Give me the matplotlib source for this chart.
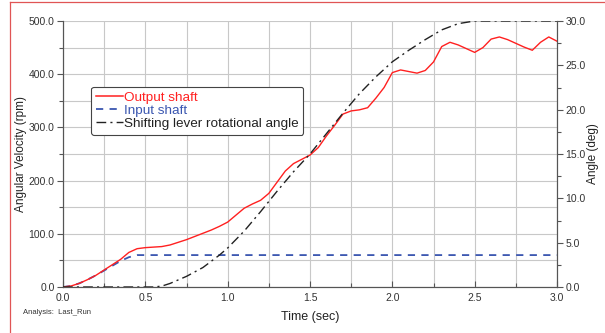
import matplotlib.pyplot as plt
from matplotlib.lines import Line2D
import numpy as np

plt.rcParams['font.family'] = ['Liberation Sans', 'DejaVu Sans']

# output shaft angular velocity (rpm)
t_out = [0.0, 0.05, 0.1, 0.15, 0.2, 0.25, 0.3, 0.35, 0.4, 0.45, 0.5, 0.55, 0.6,
         0.65, 0.7, 0.75, 0.8, 0.85, 0.9, 0.95, 1.0, 1.05, 1.1, 1.15, 1.2, 1.25,
         1.3, 1.35, 1.4, 1.45, 1.5, 1.55, 1.6, 1.65, 1.7, 1.75, 1.8, 1.85, 1.9,
         1.95, 2.0, 2.05, 2.1, 2.15, 2.2, 2.25, 2.3, 2.35, 2.4, 2.45, 2.5, 2.55,
         2.6, 2.65, 2.7, 2.75, 2.8, 2.85, 2.9, 2.95, 3.0]
w_out = [0, 2, 7, 14, 22, 32, 42, 52, 65, 72, 74, 75, 76,
         79, 84, 89, 95, 101, 107, 114, 122, 135, 148, 156, 163, 176,
         197, 218, 232, 240, 248, 262, 284, 304, 325, 331, 333, 337, 355,
         375, 403, 408, 405, 402, 407, 423, 452, 460, 455, 448, 441, 450,
         466, 470, 465, 458, 451, 445, 460, 470, 462]

# input shaft angular velocity (rpm)
t_in = [0.0, 0.05, 0.1, 0.15, 0.2, 0.25, 0.3, 0.35, 0.4, 0.45, 0.5, 3.0]
w_in = [0, 2, 7, 14, 22, 31, 40, 49, 56, 60, 60, 60]

# shifting lever rotational angle (deg)
t_ang = [0.0, 0.5, 0.55, 0.6, 0.65, 0.7, 0.75, 0.8, 0.85, 0.9, 0.95, 1.0, 1.1,
         1.2, 1.3, 1.4, 1.5, 1.6, 1.7, 1.8, 1.9, 2.0, 2.1, 2.2, 2.3, 2.4, 2.5,
         2.6, 3.0]
ang = [0, 0, 0, 0.1, 0.4, 0.8, 1.2, 1.7, 2.2, 2.9, 3.6, 4.4, 6.3,
       8.5, 10.8, 13.0, 15.0, 17.3, 19.6, 21.8, 23.7, 25.4, 26.7, 27.9, 29.0, 29.7, 30.0,
       30.0, 30.0]

fig = plt.figure(figsize=(6.05, 3.33), dpi=100)
ax = fig.add_axes([63 / 605, 46 / 333, 494 / 605, 266 / 333])
ax2 = ax.twinx()

ax.plot(t_in, w_in, color='#3a56b0', lw=1.3, dashes=(4, 3.5), zorder=3)
ax.plot(t_out, w_out, color='#ff2020', lw=1.0, zorder=4)
ax2.plot(t_ang, ang, color='#222222', lw=1.0, dashes=(7, 3, 1.5, 3), zorder=5)

ax.set_xlim(0, 3)
ax.set_ylim(0, 500)
ax2.set_ylim(0, 30)

ax.set_xticks(np.arange(0, 3.01, 0.5))
ax.set_xticks(np.arange(0, 3.01, 0.25), minor=True)
ax.set_yticks(np.arange(0, 501, 100))
ax.set_yticks(np.arange(0, 501, 50), minor=True)
ax2.set_yticks(np.arange(0, 31, 5))
ax2.set_yticks(np.arange(0, 31, 2.5), minor=True)
ax.xaxis.set_major_formatter(lambda v, p: f'{v:.1f}')
ax.yaxis.set_major_formatter(lambda v, p: f'{v:.1f}')
ax2.yaxis.set_major_formatter(lambda v, p: f'{v:.1f}')

ax.grid(True, which='both', color='#c8c8c8', lw=0.8)
ax.set_axisbelow(True)

for a in (ax, ax2):
    a.spines['top'].set_visible(False)
    for s in ('left', 'right', 'bottom'):
        a.spines[s].set_color('#555555')
    a.tick_params(colors='#555555', labelcolor='#333333', labelsize=7.5, length=4, width=0.8, pad=2)
    a.tick_params(which='minor', colors='#555555', length=3, width=0.8)
ax.tick_params(axis='x', which='both', direction='in', pad=4)

ax.set_xlabel('Time (sec)', fontsize=9, color='#222222', labelpad=6)
ax.set_ylabel('Angular Velocity (rpm)', fontsize=8.5, color='#222222', labelpad=1)
ax2.set_ylabel('Angle (deg)', fontsize=8.5, color='#222222', labelpad=1)

handles = [Line2D([], [], color='#ff2020', lw=1.1),
           Line2D([], [], color='#3a56b0', lw=1.3, dashes=(4, 3.5)),
           Line2D([], [], color='#222222', lw=1.0, dashes=(7, 3, 1.5, 3))]
leg = ax2.legend(handles, ['Output shaft', 'Input shaft', 'Shifting lever rotational angle'],
                 loc='upper left', bbox_to_anchor=(0.043, 0.778), fontsize=9.7,
                 handlelength=2.0, handletextpad=0.1, labelspacing=0.05,
                 borderpad=0.35, framealpha=1, fancybox=True)
leg.get_frame().set_edgecolor('#444444')
leg.get_frame().set_linewidth(0.8)
for txt, c in zip(leg.get_texts(), ['#ff2020', '#3a56b0', '#222222']):
    txt.set_color(c)

fig.text(23 / 605, 1 - 313 / 333, 'Analysis:  Last_Run', fontsize=5.5, color='#333333', va='center')

# red frame around the page
fig.add_artist(Line2D([9.5 / 605, 9.5 / 605], [0, 1 - 2 / 333], color='#e05555', lw=0.9))
fig.add_artist(Line2D([9.5 / 605, 1], [1 - 2 / 333, 1 - 2 / 333], color='#e05555', lw=0.9))

fig.savefig('out.png', dpi=100)
